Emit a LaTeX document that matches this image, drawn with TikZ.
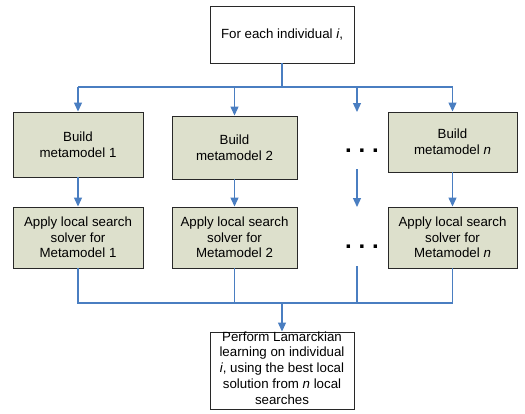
\documentclass[tikz,border=0pt]{standalone}
\usepackage{fontspec}
\setmainfont{Liberation Sans}
\usetikzlibrary{arrows.meta}
\definecolor{boxfill}{RGB}{221,224,204}
\definecolor{boxline}{RGB}{40,40,40}
\definecolor{linkblue}{RGB}{74,126,193}
\begin{document}
\begin{tikzpicture}[x=1pt,y=-1pt,
  every node/.style={font=\fontsize{13.3}{15.6}\selectfont, align=center, inner sep=0pt},
  whitebox/.style={draw=boxline, line width=0.9pt, fill=white, rectangle},
  greenbox/.style={draw=boxline, line width=0.9pt, fill=boxfill, rectangle},
  link/.style={draw=linkblue, line width=1.2pt},
  arr/.style={link, -{Triangle[width=8pt,length=9pt]}},
  dotstext/.style={font=\fontsize{24}{24}\selectfont\bfseries, anchor=base}
]
\useasboundingbox (0,0) rectangle (525,413);

\node[whitebox, minimum width=144pt, minimum height=57pt] (top) at (282,34.5) {For each individual \textit{i},};

\node[greenbox, minimum width=130pt, minimum height=65pt] (b1) at (78,144.5) {Build\\metamodel 1};
\node[greenbox, minimum width=125pt, minimum height=63pt] (b2) at (234.5,147.5) {Build\\metamodel 2};
\node[greenbox, minimum width=129pt, minimum height=60pt] (bn) at (452.5,142) {Build\\metamodel \textit{n}};

\node[greenbox, minimum width=130pt, minimum height=61pt] (a1) at (78,237.5) {Apply local search\\solver for\\Metamodel 1};
\node[greenbox, minimum width=125pt, minimum height=61pt] (a2) at (234.5,237.5) {Apply local search\\solver for\\Metamodel 2};
\node[greenbox, minimum width=129pt, minimum height=61pt] (an) at (452.5,237.5) {Apply local search\\solver for\\Metamodel \textit{n}};

\node[dotstext] (d1) at (362,152) {.\hspace{6.8pt}.\hspace{6.8pt}.};
\node[dotstext] (d2) at (362,248) {.\hspace{6.8pt}.\hspace{6.8pt}.};

\node[whitebox, minimum width=144pt, minimum height=77pt] (fin) at (282,370.5) {};
\node[font=\fontsize{13.3}{15.8}\selectfont] (fintext) at (282,368) {Perform Lamarckian\\learning on individual\\\textit{i}, using the best local\\solution from \textit{n} local\\searches};

% top bus
\coordinate (tb) at (282,87);
\coordinate (tl) at (78,87);
\coordinate (tr) at (452.5,87);
\coordinate (t2) at (234.5,87);
\coordinate (t3) at (357,87);
\coordinate (t3e) at (357,112);
\draw[link] (top.south) -- (tb);
\draw[link] (tl) -- (tr);
\draw[arr] (tl) -- (b1.north);
\draw[arr] (t2) -- (b2.north);
\draw[arr] (t3) -- (t3e);
\draw[arr] (tr) -- (bn.north);

% middle arrows
\coordinate (m3s) at (357,169);
\coordinate (m3e) at (357,207);
\draw[arr] (b1.south) -- (a1.north);
\draw[arr] (b2.south) -- (a2.north);
\draw[arr] (m3s) -- (m3e);
\draw[arr] (bn.south) -- (an.north);

% bottom bus
\coordinate (bl) at (78,303);
\coordinate (br) at (452.5,303);
\coordinate (bb) at (282,303);
\coordinate (b3s) at (357,266);
\coordinate (b3e) at (357,303);
\draw[link] (a1.south) -- (bl) -- (br) -- (an.south);
\draw[link] (a2.south) -- (a2.south |- bl);
\draw[link] (b3s) -- (b3e);
\draw[arr] (bb) -- (fin.north);
\end{tikzpicture}
\end{document}
